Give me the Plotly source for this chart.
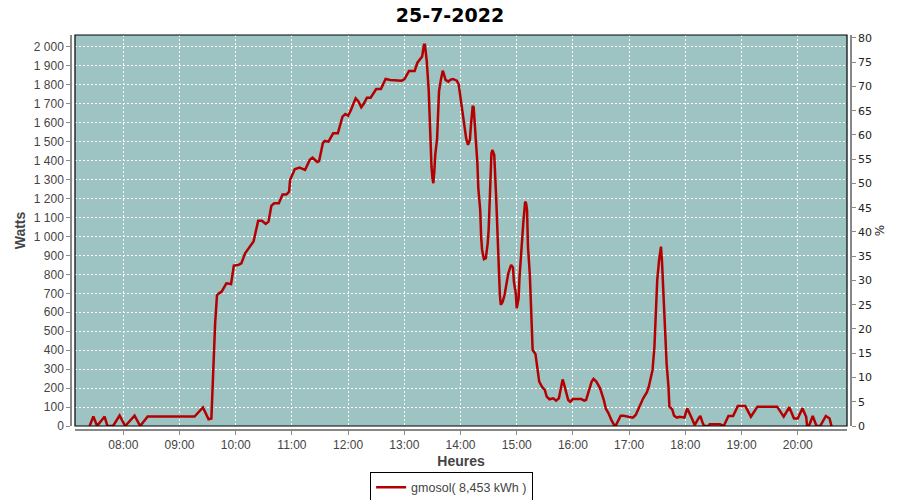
import plotly.graph_objects as go
import pandas as pd

DAY = "2022-07-25"
CHART_TITLE = "25-7-2022"
SERIES_NAME = "gmosol( 8,453 kWh )"

times = [
    "07:24", "07:28", "07:32", "07:40", "07:43", "07:49", "07:56", "08:02", "08:12", "08:18",
    "08:26", "08:30", "09:16", "09:25", "09:31", "09:34", "09:36", "09:38", "09:40", "09:42",
    "09:45", "09:50", "09:55", "09:58", "10:03", "10:06", "10:10", "10:14", "10:19", "10:24",
    "10:28", "10:32", "10:35", "10:38", "10:41", "10:46", "10:50", "10:54", "10:57", "10:58",
    "11:03", "11:08", "11:13", "11:14", "11:19", "11:22", "11:27", "11:29", "11:33", "11:35",
    "11:39", "11:44", "11:49", "11:54", "11:57", "12:00", "12:03", "12:08", "12:11", "12:14",
    "12:17", "12:20", "12:24", "12:30", "12:35", "12:40", "12:45", "12:57", "13:00", "13:05",
    "13:11", "13:14", "13:19", "13:21", "13:22", "13:24", "13:26", "13:27", "13:28", "13:29",
    "13:30", "13:31", "13:32", "13:33", "13:35", "13:36", "13:37", "13:39", "13:41", "13:42",
    "13:44", "13:47", "13:49", "13:52", "13:56", "13:58", "14:00", "14:02", "14:04", "14:06",
    "14:08", "14:10", "14:11", "14:13", "14:14", "14:15", "14:16", "14:18", "14:19", "14:21",
    "14:22", "14:23", "14:25", "14:27", "14:29", "14:30", "14:31", "14:32", "14:33", "14:34",
    "14:36", "14:38", "14:39", "14:40", "14:41", "14:42", "14:43", "14:45", "14:47", "14:49",
    "14:51", "14:54", "14:56", "14:57", "14:59", "15:00", "15:02", "15:03", "15:05", "15:07",
    "15:09", "15:10", "15:11", "15:12", "15:14", "15:16", "15:17", "15:20", "15:22", "15:24",
    "15:27", "15:30", "15:32", "15:35", "15:39", "15:42", "15:45", "15:47", "15:49", "15:50",
    "15:52", "15:55", "15:57", "16:00", "16:09", "16:12", "16:14", "16:17", "16:20", "16:22",
    "16:25", "16:29", "16:33", "16:35", "16:38", "16:41", "16:44", "16:46", "16:49", "16:51",
    "16:54", "16:59", "17:04", "17:07", "17:10", "17:13", "17:15", "17:19", "17:21", "17:23",
    "17:25", "17:27", "17:28", "17:29", "17:30", "17:32", "17:33", "17:34", "17:35", "17:36",
    "17:38", "17:39", "17:40", "17:42", "17:43", "17:46", "17:48", "17:51", "17:54", "17:59",
    "18:02", "18:07", "18:10", "18:14", "18:16", "18:18", "18:20", "18:25", "18:26", "18:37",
    "18:41", "18:46", "18:51", "18:56", "19:04", "19:10", "19:17", "19:38", "19:45", "19:51",
    "19:56", "20:00", "20:05", "20:09", "20:10", "20:12", "20:16", "20:20", "20:24", "20:30",
    "20:34", "20:36",
]

watts = [
    0, 50, 0, 50, 0, 0, 55, 0, 55, 0,
    50, 50, 50, 98, 36, 40, 350, 540, 690, 700,
    709, 753, 749, 846, 850, 858, 911, 938, 973, 1083,
    1083, 1066, 1078, 1161, 1175, 1175, 1221, 1221, 1236, 1298,
    1355, 1363, 1355, 1351, 1404, 1416, 1393, 1398, 1492, 1504,
    1500, 1544, 1544, 1632, 1646, 1637, 1667, 1729, 1712, 1682,
    1703, 1732, 1732, 1778, 1778, 1831, 1826, 1822, 1829, 1873,
    1873, 1917, 1949, 2011, 2011, 1922, 1773, 1624, 1492, 1368,
    1307, 1281, 1342, 1430, 1518, 1615, 1764, 1826, 1875, 1861,
    1826, 1817, 1826, 1831, 1822, 1803, 1738, 1667, 1588, 1518,
    1483, 1509, 1580, 1689, 1682, 1615, 1509, 1386, 1254, 1140,
    999, 929, 880, 885, 964, 1034, 1166, 1281, 1439, 1456,
    1430, 1210, 1052, 893, 770, 691, 639, 656, 691, 753,
    806, 850, 837, 761, 700, 621, 674, 788, 964, 1070,
    1184, 1175, 1140, 946, 797, 542, 401, 380, 304, 234,
    207, 190, 155, 141, 146, 134, 146, 207, 246, 230,
    190, 137, 128, 142, 142, 134, 137, 190, 234, 248,
    234, 199, 137, 93, 67, 32, 5, 5, 32, 54,
    54, 49, 44, 58, 93, 128, 146, 178, 207, 252,
    296, 418, 550, 674, 770, 876, 920, 946, 876, 770,
    621, 471, 331, 207, 102, 88, 54, 44, 49, 44,
    93, 40, 5, 40, 53, 23, 0, 0, 9, 9,
    0, 53, 53, 105, 105, 49, 102, 102, 49, 99,
    40, 40, 93, 49, 0, 0, 53, 0, 0, 53,
    40, 0,
]

x_range = ["07:08:24", "20:52:36"]
y_left_range = [0, 2063]
y_right_range = [0, 80.6]
hour_ticks = ["08:00", "09:00", "10:00", "11:00", "12:00", "13:00", "14:00",
              "15:00", "16:00", "17:00", "18:00", "19:00", "20:00"]

x_dt = pd.to_datetime([f"{DAY} {t}" for t in times])

PLOT_BG = "#9DC3C2"
LINE_COLOR = "#B40000"
TXT = "#444444"
AXC = "#888888"
FONT = "Liberation Sans"

fig = go.Figure()
fig.add_trace(go.Scatter(
    x=x_dt, y=watts, mode="lines", name=SERIES_NAME,
    line=dict(color=LINE_COLOR, width=2.5),
    xaxis="x", yaxis="y", showlegend=True,
))
# invisible trace attached to the right (%) axis so it gets drawn
fig.add_trace(go.Scatter(
    x=[x_dt[0]], y=[0], mode="lines", yaxis="y2", showlegend=False,
    hoverinfo="skip", line=dict(width=0, color="rgba(0,0,0,0)"),
))

fig.update_layout(
    width=900, height=500,
    margin=dict(l=70, r=48, t=35, b=69, autoexpand=False),
    paper_bgcolor="white",
    plot_bgcolor=PLOT_BG,
    separators=", ",
    font=dict(family=FONT, size=12, color=TXT),
    title=dict(text=CHART_TITLE, x=0.5, xanchor="center", y=0.97, yanchor="middle",
               font=dict(family="DejaVu Sans", size=19, color="black", weight="bold")),
    showlegend=True,
    legend=dict(orientation="h", x=0.488, xanchor="center", y=-0.143, yanchor="middle",
                bordercolor="black", borderwidth=1, bgcolor="white",
                font=dict(family=FONT, size=12.5, color=TXT),
                itemwidth=30, tracegroupgap=0),
    xaxis=dict(
        type="date", domain=[0.00639, 0.99361], anchor="free", position=0.0025,
        range=[f"{DAY} {x_range[0]}", f"{DAY} {x_range[1]}"],
        tickmode="array", tickvals=[f"{DAY} {h}" for h in hour_ticks], ticktext=hour_ticks,
        showgrid=True, gridcolor="white", gridwidth=1, griddash="2px,2px",
        showline=True, linecolor=AXC, linewidth=1.5,
        ticks="outside", ticklen=4, tickcolor=AXC, automargin=False,
        tickfont=dict(family=FONT, size=12, color=TXT),
        title=dict(text="Heures", standoff=4,
                   font=dict(family=FONT, size=14, color=TXT, weight="bold")),
        zeroline=False,
    ),
    yaxis=dict(
        domain=[0.01263, 1.0], anchor="free", position=0.00128,
        range=y_left_range, dtick=100, tick0=0, tickformat=",d",
        showgrid=True, gridcolor="white", gridwidth=1, griddash="2px,2px",
        showline=True, linecolor=AXC, linewidth=1.5,
        ticks="outside", ticklen=4, tickcolor=AXC, automargin=False,
        tickfont=dict(family=FONT, size=12, color=TXT),
        title=dict(text="Watts", standoff=4,
                   font=dict(family=FONT, size=14, color=TXT, weight="bold")),
        zeroline=False,
    ),
    yaxis2=dict(
        overlaying="y", side="right", anchor="free", position=0.99872,
        range=y_right_range, dtick=5, tick0=0,
        showgrid=False, zeroline=False, automargin=False,
        showline=True, linecolor=AXC, linewidth=1.5,
        ticks="outside", ticklen=4, tickcolor=AXC,
        tickfont=dict(family="DejaVu Sans", size=11, color="#222222"),
        title=dict(text="%", standoff=4,
                   font=dict(family="DejaVu Sans", size=12, color="#222222")),
    ),
    shapes=[dict(type="rect", xref="x domain", yref="y domain", x0=0, x1=1, y0=0, y1=1,
                 line=dict(color="black", width=1.2), fillcolor="rgba(0,0,0,0)", layer="above")],
)

fig.write_html("out.html", config={"displayModeBar": False},
               post_script="document.body.style.margin='0px';document.body.style.overflow='hidden';")
